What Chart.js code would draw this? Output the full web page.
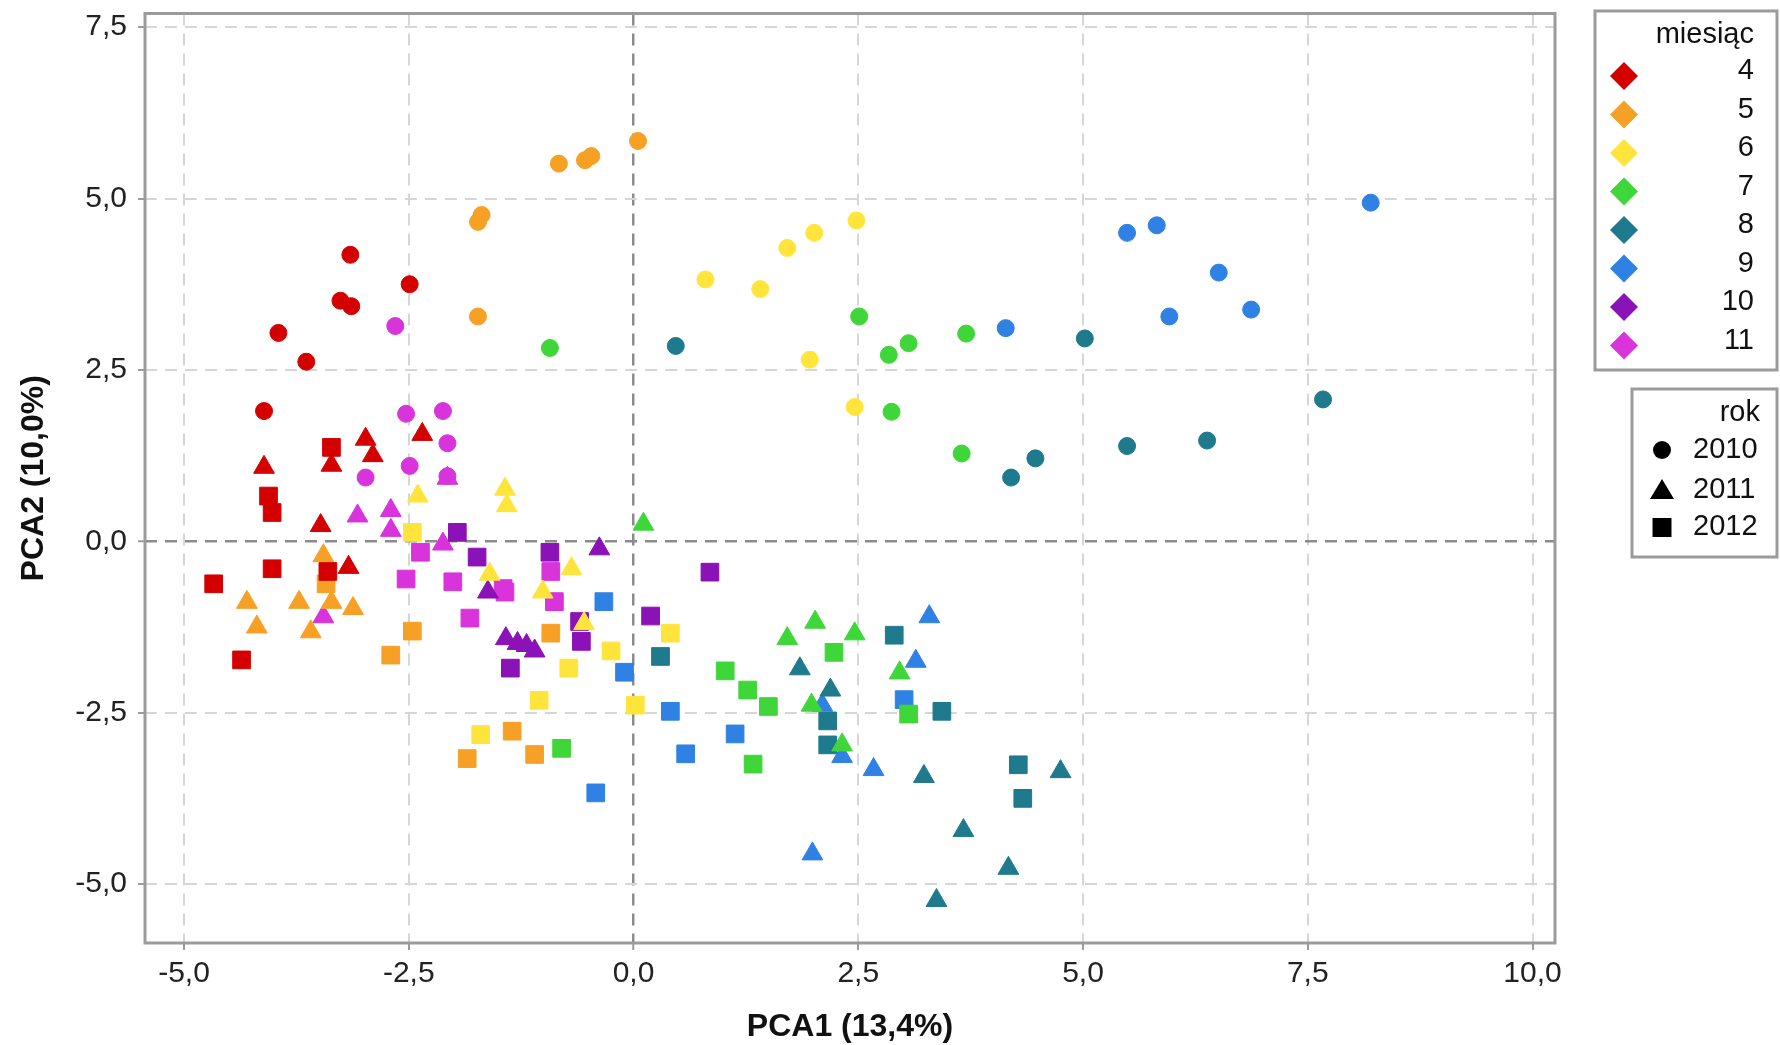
<!DOCTYPE html>
<html>
<head>
<meta charset="utf-8">
<script src="https://cdn.jsdelivr.net/npm/chart.js@4.4.0/dist/chart.umd.min.js"></script>
<style>
  html, body { margin: 0; padding: 0; background: #fff; }
</style>
</head>
<body>
<canvas id="pcaChart" width="1780" height="1045"></canvas>
<script>
// categories
const months = ['4', '5', '6', '7', '8', '9', '10', '11'];
const years = ['2010', '2011', '2012'];
const xTicks = [-5, -2.5, 0, 2.5, 5, 7.5, 10];
const yTicks = [-5, -2.5, 0, 2.5, 5, 7.5];

// [PCA1, PCA2] points, one list per month and year
const m4_2010 = [[-3.15, 4.18], [-2.49, 3.75], [-3.26, 3.51], [-3.14, 3.43], [-3.95, 3.04], [-3.64, 2.62], [-4.11, 1.90]];
const m4_2011 = [[-2.98, 1.49], [-2.35, 1.56], [-2.90, 1.25], [-3.36, 1.11], [-4.11, 1.08], [-3.48, 0.23], [-3.17, -0.38]];
const m4_2012 = [[-3.36, 1.37], [-4.06, 0.66], [-4.02, 0.42], [-4.02, -0.40], [-3.40, -0.44], [-4.67, -0.62], [-4.36, -1.73]];

const m5_2010 = [[-0.83, 5.51], [-0.54, 5.56], [-0.47, 5.62], [0.05, 5.84], [-1.73, 4.66], [-1.69, 4.76], [-1.73, 3.28]];
const m5_2011 = [[-3.45, -0.21], [-4.30, -0.89], [-3.72, -0.89], [-3.36, -0.89], [-3.12, -0.98], [-4.19, -1.25], [-3.59, -1.32]];
const m5_2012 = [[-3.42, -0.62], [-2.46, -1.31], [-0.92, -1.34], [-2.70, -1.66], [-1.35, -2.77], [-1.10, -3.11], [-1.85, -3.17]];

const m6_2010 = [[0.80, 3.82], [1.41, 3.68], [1.71, 4.28], [2.01, 4.50], [2.48, 4.68], [1.96, 2.65], [2.46, 1.96]];
const m6_2011 = [[-2.40, 0.66], [-1.43, 0.76], [-1.41, 0.52], [-1.60, -0.48], [-1.01, -0.74], [-0.69, -0.40], [-0.55, -1.20]];
const m6_2012 = [[-2.46, 0.13], [-0.72, -1.85], [-0.25, -1.60], [-1.05, -2.32], [0.02, -2.39], [-1.70, -2.82], [0.41, -1.34]];

const m7_2010 = [[-0.93, 2.82], [2.51, 3.28], [2.84, 2.72], [3.06, 2.89], [3.70, 3.03], [2.87, 1.89], [3.65, 1.28]];
const m7_2011 = [[0.11, 0.25], [2.02, -1.18], [1.71, -1.42], [2.46, -1.35], [2.96, -1.92], [1.98, -2.39], [2.32, -2.97]];
const m7_2012 = [[-0.80, -3.02], [1.02, -1.89], [1.27, -2.17], [1.50, -2.41], [2.23, -1.62], [1.33, -3.25], [3.06, -2.52]];

const m8_2010 = [[0.47, 2.85], [5.02, 2.96], [4.47, 1.21], [4.20, 0.93], [5.49, 1.39], [7.67, 2.07], [6.38, 1.47]];
const m8_2011 = [[1.85, -1.86], [2.19, -2.17], [3.23, -3.43], [4.75, -3.36], [3.67, -4.22], [4.17, -4.77], [3.37, -5.24]];
const m8_2012 = [[0.30, -1.68], [2.90, -1.37], [2.16, -2.62], [2.16, -2.97], [3.43, -2.48], [4.28, -3.26], [4.33, -3.75]];

const m9_2010 = [[4.14, 3.11], [5.49, 4.50], [5.82, 4.61], [5.96, 3.28], [6.51, 3.92], [6.87, 3.38], [8.20, 4.94]];
const m9_2011 = [[3.29, -1.10], [3.14, -1.75], [2.10, -2.39], [2.32, -3.14], [2.67, -3.33], [1.99, -4.56]];
const m9_2012 = [[-0.33, -0.88], [-0.10, -1.91], [0.41, -2.48], [1.13, -2.81], [0.58, -3.10], [3.01, -2.31], [-0.42, -3.67]];

const m10_2010 = [];
const m10_2011 = [[-0.38, -0.11], [-1.62, -0.74], [-1.42, -1.42], [-1.29, -1.49], [-1.19, -1.52], [-1.10, -1.60]];
const m10_2012 = [[-1.96, 0.13], [-1.74, -0.23], [-0.93, -0.16], [-0.60, -1.17], [-0.58, -1.46], [0.19, -1.09], [-1.37, -1.85], [0.85, -0.45]];

const m11_2010 = [[-2.65, 3.14], [-2.53, 1.86], [-2.12, 1.90], [-2.07, 1.43], [-2.49, 1.10], [-2.98, 0.93], [-2.07, 0.95]];
const m11_2011 = [[-2.07, 0.92], [-3.07, 0.37], [-2.70, 0.45], [-2.70, 0.16], [-2.12, -0.04], [-3.45, -1.10]];
const m11_2012 = [[-2.37, -0.16], [-2.53, -0.55], [-2.01, -0.59], [-1.45, -0.69], [-1.43, -0.74], [-0.92, -0.44], [-0.88, -0.88], [-1.82, -1.12]];

const series = [
  [m4_2010, m4_2011, m4_2012],
  [m5_2010, m5_2011, m5_2012],
  [m6_2010, m6_2011, m6_2012],
  [m7_2010, m7_2011, m7_2012],
  [m8_2010, m8_2011, m8_2012],
  [m9_2010, m9_2011, m9_2012],
  [m10_2010, m10_2011, m10_2012],
  [m11_2010, m11_2011, m11_2012]
];

const monthColors = ['#d40000', '#f7a026', '#ffe43c', '#3fd63a', '#1e7a8c', '#2f82e3', '#8a12b6', '#d933dc'];
const yearShapes = ['circle', 'triangle', 'rect'];
const yearRadius = [8.5, 12, 12.5];

Chart.defaults.font.family = '"Liberation Sans", Arial, sans-serif';

const datasets = [];
months.forEach(function (m, i) {
  years.forEach(function (yr, j) {
    datasets.push({
      label: m + ' / ' + yr,
      data: series[i][j].map(function (p) { return { x: p[0], y: p[1] }; }),
      backgroundColor: monthColors[i],
      borderColor: monthColors[i],
      borderWidth: 1,
      pointStyle: yearShapes[j],
      pointRadius: yearRadius[j]
    });
  });
});

const fmt = function (v) { return v.toFixed(1).replace('.', ','); };
const gridColor = function (c) { return c.tick && c.tick.value === 0 ? '#8c8c8c' : '#d6d6d6'; };
const gridWidth = function (c) { return c.tick && c.tick.value === 0 ? 2.5 : 2; };

// frame around the plot area
const framePlugin = {
  id: 'frame',
  afterDatasetsDraw(chart) {
    const a = chart.chartArea;
    const ctx = chart.ctx;
    ctx.save();
    ctx.lineWidth = 3;
    ctx.strokeStyle = '#9b9b9b';
    ctx.strokeRect(a.left, a.top, a.right - a.left, a.bottom - a.top);
    ctx.restore();
  }
};

// the two boxed legends on the right
const boxLegend = {
  id: 'boxLegend',
  afterDraw(chart) {
    const ctx = chart.ctx;
    ctx.save();
    ctx.lineWidth = 3;
    ctx.strokeStyle = '#9b9b9b';
    ctx.strokeRect(1595, 11, 182, 359);
    ctx.strokeRect(1632, 389, 145, 168);

    ctx.fillStyle = '#111';
    ctx.font = '29px "Liberation Sans", Arial, sans-serif';
    ctx.textAlign = 'right';
    ctx.textBaseline = 'middle';
    ctx.fillText('miesiąc', 1754, 35);
    months.forEach(function (m, i) {
      const y = 71 + i * 38.5;
      ctx.fillStyle = '#111';
      ctx.fillText(m, 1754, y);
      const cy = y + 5, cx = 1624, r = 14;
      ctx.fillStyle = monthColors[i];
      ctx.beginPath();
      ctx.moveTo(cx, cy - r);
      ctx.lineTo(cx + r, cy);
      ctx.lineTo(cx, cy + r);
      ctx.lineTo(cx - r, cy);
      ctx.closePath();
      ctx.fill();
    });

    ctx.fillStyle = '#111';
    ctx.fillText('rok', 1760, 413);
    ctx.textAlign = 'left';
    const rows = [450, 490, 527];
    years.forEach(function (yr, j) {
      const y = rows[j];
      ctx.fillStyle = '#111';
      ctx.fillText(yr, 1693, y);
      ctx.fillStyle = '#000';
      ctx.beginPath();
      if (j === 0) {
        ctx.arc(1662, y, 9, 0, Math.PI * 2);
      } else if (j === 1) {
        ctx.moveTo(1662, y - 11);
        ctx.lineTo(1674, y + 9);
        ctx.lineTo(1650, y + 9);
        ctx.closePath();
      } else {
        ctx.rect(1652.5, y - 9, 19, 19);
      }
      ctx.fill();
    });
    ctx.restore();
  }
};

new Chart(document.getElementById('pcaChart'), {
  type: 'scatter',
  data: { datasets: datasets },
  plugins: [framePlugin, boxLegend],
  options: {
    responsive: false,
    animation: false,
    events: [],
    layout: { padding: { top: 12, right: 225, left: 0, bottom: 0 } },
    plugins: {
      legend: { display: false },
      tooltip: { enabled: false }
    },
    scales: {
      x: {
        type: 'linear',
        min: -5.434,
        max: 10.25,
        afterBuildTicks: function (scale) { scale.ticks = xTicks.map(function (v) { return { value: v }; }); },
        afterFit: function (scale) {
          scale.height = 102;
          scale.paddingLeft = 0;
          scale.paddingRight = 0;
        },
        ticks: {
          callback: fmt,
          color: '#222',
          padding: 6,
          maxRotation: 0,
          font: { size: 30, lineHeight: 1.2 }
        },
        grid: { color: gridColor, lineWidth: gridWidth, tickLength: 7, tickColor: '#9b9b9b', tickWidth: 2 },
        border: { display: false, dash: [12, 8] },
        title: {
          display: true,
          text: 'PCA1 (13,4%)',
          color: '#111',
          font: { size: 32, weight: 'bold', lineHeight: 1 },
          padding: { top: 0, bottom: 2 }
        }
      },
      y: {
        type: 'linear',
        min: -5.86,
        max: 7.70,
        afterBuildTicks: function (scale) { scale.ticks = yTicks.map(function (v) { return { value: v }; }); },
        afterFit: function (scale) {
          scale.width = 145;
          scale.paddingTop = 0;
          scale.paddingBottom = 0;
        },
        ticks: {
          callback: fmt,
          color: '#222',
          padding: 11,
          font: { size: 30, lineHeight: 1.2 }
        },
        grid: { color: gridColor, lineWidth: gridWidth, tickLength: 7, tickColor: '#9b9b9b', tickWidth: 2 },
        border: { display: false, dash: [12, 8] },
        title: {
          display: true,
          text: 'PCA2 (10,0%)',
          color: '#111',
          font: { size: 32, weight: 'bold', lineHeight: 1 },
          padding: { top: 18, bottom: 0 }
        }
      }
    }
  }
});
</script>
</body>
</html>
